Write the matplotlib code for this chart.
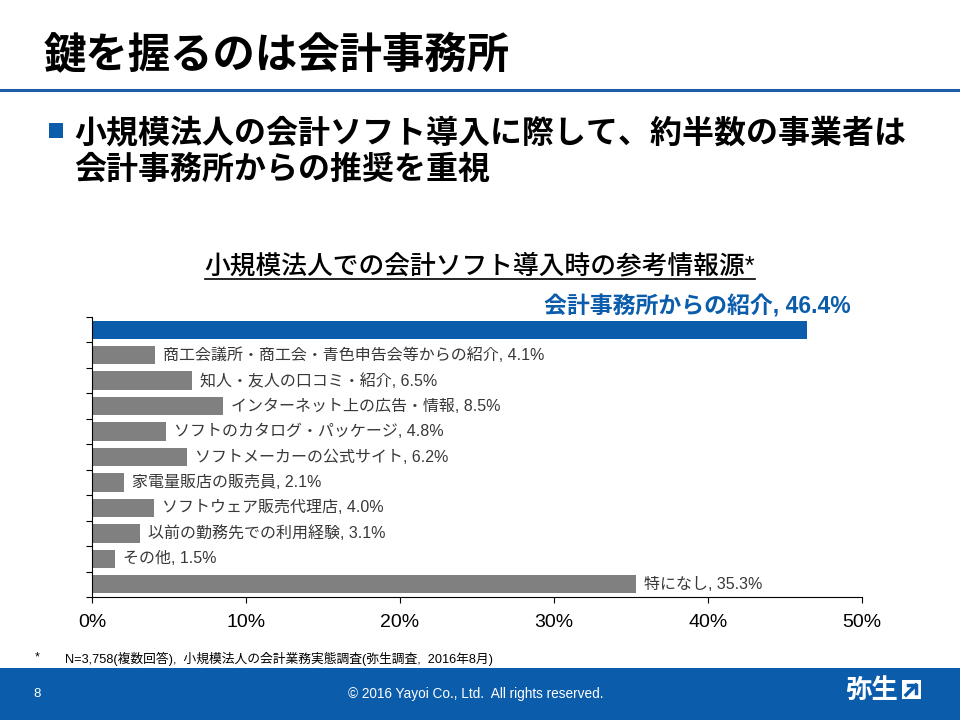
import numpy as np
import matplotlib
matplotlib.use('Agg')
import matplotlib.pyplot as plt
from matplotlib.patches import Rectangle
from matplotlib.lines import Line2D

plt.rcParams['font.family'] = ['Liberation Sans', 'Noto Sans CJK JP']

# データ
categories = ['会計事務所からの紹介', '商工会議所・商工会・青色申告会等からの紹介',
              '知人・友人の口コミ・紹介', 'インターネット上の広告・情報',
              'ソフトのカタログ・パッケージ', 'ソフトメーカーの公式サイト',
              '家電量販店の販売員', 'ソフトウェア販売代理店',
              '以前の勤務先での利用経験', 'その他', '特になし']
values = [46.4, 4.1, 6.5, 8.5, 4.8, 6.2, 2.1, 4.0, 3.1, 1.5, 35.3]
xticks = [0, 10, 20, 30, 40, 50]

blue = '#0b5cab'
gray = '#808080'

fig = plt.figure(figsize=(9.6, 7.2), dpi=100)
W, H = 960, 720

# スライドの見出し
fig.text(44 / W, 1 - 57 / H, '鍵を握るのは会計事務所', fontsize=30.5, fontweight='bold',
         va='center', ha='left', color='black')
fig.add_artist(Line2D([0, 1], [1 - 90 / H, 1 - 90 / H], color='#1f5ca6', lw=2.2))

# 箇条書き
fig.add_artist(Rectangle((49 / W, 1 - 138 / H), 14 / W, 15 / H, color=blue, lw=0))
fig.text(74 / W, 1 - 134 / H, '小規模法人の会計ソフト導入に際して、約半数の事業者は',
         fontsize=23, fontweight='bold', va='center', ha='left')
fig.text(74 / W, 1 - 171 / H, '会計事務所からの推奨を重視',
         fontsize=23, fontweight='bold', va='center', ha='left')

# グラフタイトル（下線付き）
t = fig.text(480 / W, 1 - 266 / H, '小規模法人での会計ソフト導入時の参考情報源*',
             fontsize=18.5, va='center', ha='center', fontweight='medium')

# 棒グラフ
ax = fig.add_axes([92 / W, 1 - 597 / H, 770 / W, 280 / H])
n = len(categories)
y = np.arange(n)
colors = [blue] + [gray] * (n - 1)
ax.barh(y, values, height=0.72, color=colors)
ax.set_ylim(n - 0.5, -0.5)
ax.set_xlim(0, 50)

ax.set_yticks(np.arange(-0.5, n, 1))
ax.set_yticklabels([])
ax.tick_params(axis='y', length=4, width=0.8, direction='out')
ax.set_xticks(xticks)
ax.set_xticklabels([f'{v}%' for v in xticks], fontsize=14)
ax.tick_params(axis='x', length=4, width=0.8, direction='out', pad=8)
for s in ['top', 'right']:
    ax.spines[s].set_visible(False)
for s in ['left', 'bottom']:
    ax.spines[s].set_linewidth(0.8)

for i, (c, v) in enumerate(zip(categories, values)):
    if i == 0:
        ax.annotate(f'{c}, {v}%', xy=(v, i), xytext=(44, 23), textcoords='offset pixels',
                    ha='right', va='center', fontsize=16.5, fontweight='bold', color=blue)
    else:
        ax.annotate(f'{c}, {v}%', xy=(v, i), xytext=(8, 0), textcoords='offset pixels',
                    ha='left', va='center', fontsize=11.5, color='#383838')

# 脚注
fig.text(35 / W, 1 - 657 / H, '*', fontsize=9, va='center', ha='left')
fig.text(65 / W, 1 - 659 / H, 'N=3,758(複数回答),  小規模法人の会計業務実態調査(弥生調査,  2016年8月)',
         fontsize=9.2, va='center', ha='left')

# フッター
fig.add_artist(Rectangle((0, 0), 1, 52 / H, color=blue, lw=0))
fig.text(33 / W, 1 - 694 / H, '8', fontsize=9.5, color='white', va='center', ha='left')
fig.text(476 / W, 1 - 694 / H, '© 2016 Yayoi Co., Ltd.  All rights reserved.',
         fontsize=9.8, color='white', va='center', ha='center')
fig.text(898 / W, 1 - 691 / H, '弥生', fontsize=19, fontweight='bold', color='white',
         va='center', ha='right')
fig.add_artist(Rectangle((902 / W, 1 - 699 / H), 19 / W, 19 / H, color='white', lw=0))
fig.add_artist(Line2D([906 / W, 916 / W], [1 - 695 / H, 1 - 685 / H], color=blue, lw=2.5))
fig.add_artist(Line2D([908 / W, 916 / W, 916 / W], [1 - 685 / H, 1 - 685 / H, 1 - 693 / H],
                      color=blue, lw=2.5))

# タイトルの下線
fig.canvas.draw()
bb = t.get_window_extent()
fig.add_artist(Line2D([bb.x0 / W, bb.x1 / W], [(bb.y0 - 1) / H, (bb.y0 - 1) / H],
                      color='black', lw=1.2))

fig.savefig('out.png', dpi=100)
